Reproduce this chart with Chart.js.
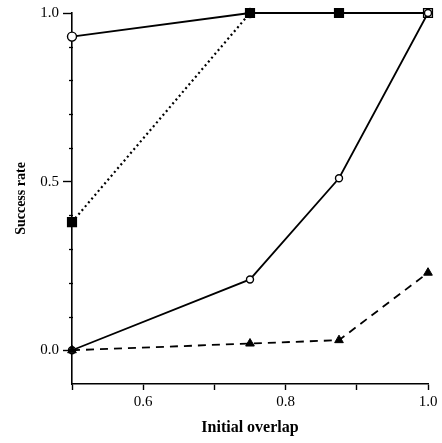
<!DOCTYPE html>
<html>
<head>
<meta charset="utf-8">
<script src="https://cdn.jsdelivr.net/npm/chart.js@4"></script>
<style>
html, body { margin: 0; padding: 0; background: #fff; }
</style>
</head>
<body>
<canvas id="overlap-chart" width="442" height="443"></canvas>
<script>
// success rate vs initial overlap, four runs
const overlap = [0.5, 0.75, 0.875, 1.0];
const rate_open_circle = [0.93, 1.0, 1.0, 1.0];
const rate_square = [0.38, 1.0, 1.0, 1.0];
const rate_small_circle = [0.0, 0.21, 0.51, 1.0];
const rate_triangle = [0.0, 0.02, 0.03, 0.23];

const x_labels = [0.6, 0.8, 1.0];
const y_labels = [0.0, 0.5, 1.0];

const serif = "'Liberation Serif', 'Times New Roman', serif";

function to_points(values) {
    return overlap.map((x, i) => ({ x: x, y: values[i] }));
}

function in_list(v, list) {
    return list.some(t => Math.abs(v - t) < 1e-6);
}

// short ticks on the y axis between the labelled ones
const minor_ticks = {
    id: 'minor_ticks',
    afterDraw(chart) {
        const y = chart.scales.y;
        const ctx = chart.ctx;
        const x0 = chart.chartArea.left;
        ctx.save();
        ctx.strokeStyle = '#000';
        ctx.lineWidth = 1.3;
        y.ticks.forEach(t => {
            if (in_list(t.value, y_labels) || t.value < -0.05) return;
            const py = Math.round(y.getPixelForValue(t.value)) + 0.5;
            ctx.beginPath();
            ctx.moveTo(x0 - 3, py);
            ctx.lineTo(x0 + 1, py);
            ctx.stroke();
        });
        ctx.restore();
    }
};

const ctx = document.querySelector('#overlap-chart').getContext('2d');

let chart = new Chart(ctx, {
    type: 'scatter',
    data: {
        datasets: [
            {
                label: 'small circles',
                order: 1,
                data: to_points(rate_small_circle),
                showLine: true,
                borderColor: '#000',
                borderWidth: 1.8,
                pointStyle: 'circle',
                pointRadius: 3.5,
                pointBackgroundColor: '#fff',
                pointBorderColor: '#000',
                pointBorderWidth: 1.4
            },
            {
                label: 'squares',
                order: 2,
                data: to_points(rate_square),
                showLine: true,
                borderColor: '#000',
                borderWidth: 2.2,
                borderDash: [2, 3],
                pointStyle: 'rect',
                pointRadius: 6.2,
                pointBackgroundColor: ['#000', '#000', '#000', '#fff'],
                pointBorderColor: '#000',
                pointBorderWidth: 1.4
            },
            {
                label: 'open circles',
                order: 3,
                data: to_points(rate_open_circle),
                showLine: true,
                borderColor: '#000',
                borderWidth: 1.8,
                pointStyle: 'circle',
                pointRadius: [4.5, 4.5, 0, 0],
                pointBackgroundColor: ['#fff', '#000', '#000', '#fff'],
                pointBorderColor: '#000',
                pointBorderWidth: 1.4
            },
            {
                label: 'triangles',
                order: 0,
                data: to_points(rate_triangle),
                showLine: true,
                borderColor: '#000',
                borderWidth: 1.8,
                borderDash: [8, 6],
                pointStyle: 'triangle',
                pointRadius: 5,
                pointBackgroundColor: '#000',
                pointBorderColor: '#000',
                pointBorderWidth: 1
            }
        ]
    },
    options: {
        responsive: false,
        animation: false,
        devicePixelRatio: 1,
        clip: false,
        layout: { padding: { top: 13, right: 14, left: 0, bottom: 0 } },
        plugins: {
            legend: { display: false },
            tooltip: { enabled: false }
        },
        scales: {
            x: {
                type: 'linear',
                min: 0.5,
                max: 1.0,
                border: { color: '#000', width: 1.6 },
                grid: { drawOnChartArea: false, tickLength: 6, tickColor: '#000', tickWidth: 1.4 },
                ticks: {
                    stepSize: 0.1,
                    autoSkip: false,
                    maxRotation: 0,
                    padding: 3,
                    color: '#000',
                    font: { family: serif, size: 15 },
                    callback: v => in_list(v, x_labels) ? v.toFixed(1) : ''
                },
                title: {
                    display: true,
                    text: 'Initial overlap',
                    color: '#000',
                    font: { family: serif, size: 16, weight: 'bold' },
                    padding: { top: 0, bottom: 6 }
                },
                afterFit: s => { s.height = 59; }
            },
            y: {
                type: 'linear',
                min: -0.1,
                max: 1.0,
                border: { color: '#000', width: 1.6 },
                grid: {
                    drawOnChartArea: false,
                    tickLength: 9,
                    tickWidth: 1.4,
                    tickColor: c => in_list(c.tick.value, y_labels) ? '#000' : 'rgba(0,0,0,0)'
                },
                ticks: {
                    stepSize: 0.1,
                    autoSkip: false,
                    padding: 4,
                    color: '#000',
                    font: { family: serif, size: 15 },
                    callback: v => in_list(v, y_labels) ? Math.abs(v).toFixed(1) : ''
                },
                title: {
                    display: true,
                    text: 'Success rate',
                    color: '#000',
                    font: { family: serif, size: 14, weight: 'bold' },
                    padding: { top: 13, bottom: 0 }
                },
                afterFit: s => { s.width = 72; }
            }
        }
    },
    plugins: [minor_ticks]
});
</script>
</body>
</html>
